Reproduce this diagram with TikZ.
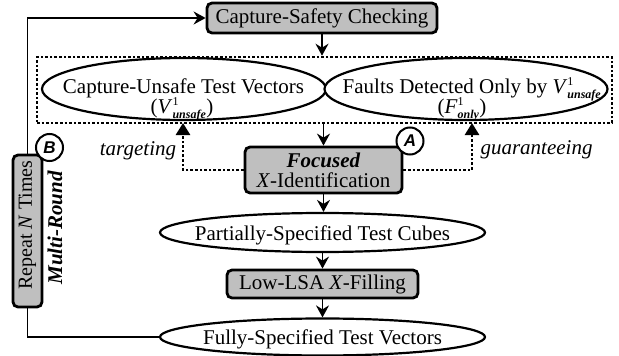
\documentclass[tikz,border=0pt]{standalone}
\usepackage{fontspec}
\setmainfont{Liberation Serif}
\newfontfamily\arialfont{Liberation Sans}
\usetikzlibrary{arrows.meta,shapes.geometric}
\newcommand{\subsup}[2]{$^{\mbox{\fontsize{12}{12}\selectfont #1}}_{\mbox{\fontsize{12}{12}\selectfont\bfseries\itshape #2}}$}
\begin{document}
\begin{tikzpicture}[x=1pt,y=-1pt,
  font=\fontsize{21}{20}\selectfont,
  proc/.style={draw,line width=2.8pt,rounded corners=5pt,fill=black!25,inner sep=0pt,align=center},
  data/.style={draw,ellipse,line width=2.2pt,fill=white,inner sep=0pt},
  txt/.style={inner sep=0pt,anchor=base},
  flow/.style={line width=1.8pt,-{Stealth[length=12pt,width=13pt,inset=4pt]}},
  loopline/.style={line width=1.6pt},
  dots/.style={line width=2.6pt,dotted,-{Triangle[length=12pt,width=14pt]}},
  tag/.style={circle,draw,line width=2pt,fill=white,inner sep=0pt,minimum size=27pt,font=\arialfont\bfseries\itshape\fontsize{17}{17}\selectfont}]
\useasboundingbox (0,0) rectangle (619,356);

% top process
\node[proc,minimum width=230,minimum height=30] (csc) at (322,18) {Capture-Safety Checking};

% dotted group
\node[draw,dotted,line width=2.6pt,minimum width=575,minimum height=66,inner sep=0pt] (grp) at (324.5,90) {};
\node[data,minimum width=284,minimum height=62] (cuv) at (184,89) {};
\node[data,minimum width=283,minimum height=62] (fdo) at (466,89) {};
\node[txt] (cuv1) at (183.5,93) {Capture-Unsafe Test Vectors};
\node[txt] (cuv2) at (182,113) {(\textit{V}\subsup{1}{unsafe})};
\node[txt] (fdo1) at (472,93) {Faults Detected Only by \textit{V}\subsup{1}{unsafe}};
\node[txt] (fdo2) at (462,113) {(\textit{F}\subsup{1}{only})};

% focused X-identification
\node[proc,minimum width=157,minimum height=46] (foc) at (323.5,170) {\textbf{\textit{Focused}}\\\textit{X}-Identification};

% lower chain
\node[data,minimum width=325,minimum height=39] (pst) at (322.5,232.5) {};
\node[txt] (pstt) at (322.5,240) {Partially-Specified Test Cubes};
\node[proc,minimum width=191,minimum height=28] (llx) at (322.5,284) {Low-LSA \textit{X}-Filling};
\node[data,minimum width=325,minimum height=37] (fsv) at (322.5,337) {};
\node[txt] (fsvt) at (322.5,344) {Fully-Specified Test Vectors};

% repeat box
\node[proc,rotate=90,minimum width=152,minimum height=29,font=\fontsize{20}{20}\selectfont] (rep) at (27.5,231) {\hspace*{12pt}Repeat \textit{N} Times};
\node[rotate=90,inner sep=0pt,font=\fontsize{21}{20}\selectfont\bfseries\itshape] (mr) at (55,228) {Multi-Round};

% labels and tags
\node[txt,font=\fontsize{21}{20}\selectfont\itshape] (tgt) at (138,155) {targeting};
\node[txt,font=\fontsize{21}{20}\selectfont\itshape] (gua) at (536.5,154) {guaranteeing};
\node[tag] (ta) at (410,141) {A};
\node[tag] (tb) at (49.5,147.5) {B};

% connectors
\draw[flow] (csc.south) -- (csc.south |- grp.north);
\draw[flow] (foc.north |- grp.south) -- (foc.north);
\draw[flow] (foc.south) -- (foc.south |- pst.north);
\draw[flow] (pst.south -| llx.north) -- (llx.north);
\draw[flow] (llx.south) -- (llx.south |- fsv.north);

\coordinate (tl) at (183,123);
\coordinate (tr) at (472,123);
\draw[dots] (foc.west) -| (tl);
\draw[dots] (foc.east) -| (tr);

\draw[flow] (rep.east) |- (csc.west);
\draw[loopline] (rep.west) |- (fsv.west);
\end{tikzpicture}
\end{document}
